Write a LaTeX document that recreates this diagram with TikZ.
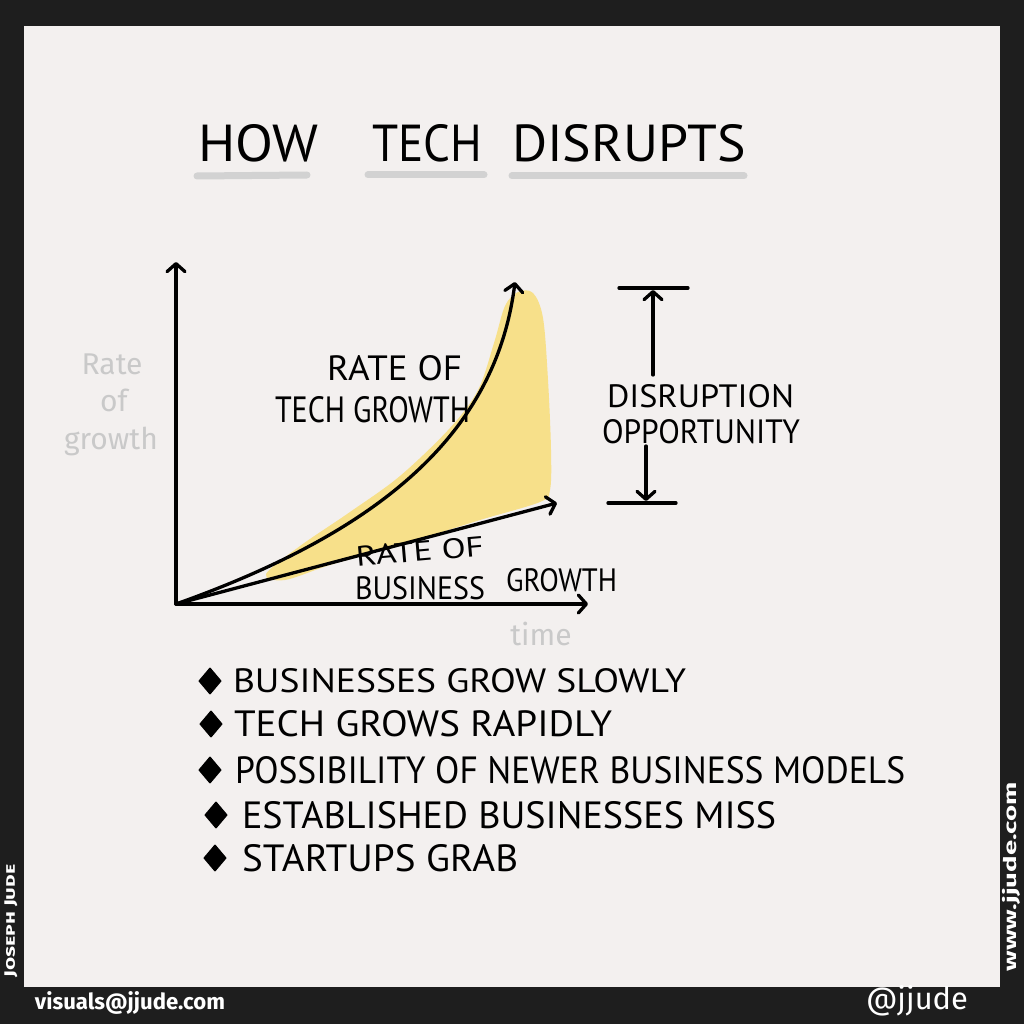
\documentclass[tikz,border=0pt]{standalone}
\usepackage{fontspec}
\usepackage{graphicx}
\setmainfont{PT Sans}
\newfontfamily\hand{PT Sans}
\newfontfamily\soft{Fira Sans}
\usetikzlibrary{arrows.meta,shapes.geometric}
\definecolor{frame}{HTML}{1E1E1E}
\definecolor{paper}{HTML}{F3F0EF}
\definecolor{yel}{HTML}{F7E08A}
\definecolor{lgray}{HTML}{C9C9C9}
\definecolor{ulgray}{HTML}{D2D2D2}
\newcommand\fitbox[3]{\resizebox{#1}{#2}{#3}}
\newcommand\fitall[3]{\resizebox*{#1}{#2}{#3}}
\tikzset{
  ink/.style={draw=black, line width=3.3pt, line cap=round, line join=round},
  arr/.style={-{Straight Barb[length=8pt,width=18pt,round]}},
  txt/.style={inner sep=0pt, outer sep=0pt, anchor=south west},
  lbl/.style={inner sep=0pt, text=lgray, font=\soft\fontsize{30}{30}\selectfont},
  bul/.style={diamond, fill=black, draw=black, line width=1.5pt, line join=round, minimum width=22pt, minimum height=26pt, inner sep=0pt},
  uline/.style={draw=ulgray, line width=7pt, line cap=round},
  foot/.style={inner sep=0pt, text=white},
}
\begin{document}
\begin{tikzpicture}[x=1pt,y=-1pt]
\fill[frame] (0,0) rectangle (1024,1024);
\fill[paper] (24,26) rectangle (1000,987);
\useasboundingbox (0,0) rectangle (1024,1024);

% title
\draw[uline] (197,176) -- (307,175);
\draw[uline] (368,175) -- (484,175);
\draw[uline] (512,176) -- (744,176);
\node[txt] (tHow) at (198,162) {\fitbox{120pt}{37pt}{\hand HOW}};
\node[txt] (tTech) at (372,162) {\fitbox{110pt}{37pt}{\hand TECH}};
\node[txt] (tDis) at (512,162) {\fitbox{234pt}{37pt}{\hand DISRUPTS}};

% yellow area
\fill[yel] plot[smooth cycle, tension=0.55] coordinates {
 (266,574) (300,546) (350,512) (400,476) (450,428) (478,390) (494,343)
 (505,306) (518,292) (533,293) (543,318) (548,380) (551,450) (550,490)
 (540,502) (480,520) (400,545) (330,565) (285,580)};

% axes and curves
\coordinate (O) at (176,604);
\coordinate (Ytop) at (176,262);
\coordinate (Xend) at (588,604);
\coordinate (Tend) at (515,282);
\coordinate (Bend) at (557,503);
\draw[ink, arr] (O) -- (Ytop);
\draw[ink, arr] (O) -- (Xend);
\draw[ink, arr] (O) .. controls (370,535) and (495,440) .. (Tend);
\draw[ink, arr] (O) -- (Bend);

% curve labels
\node[txt] (rt1) at (327,381) {\fitbox{135pt}{25pt}{\hand RATE OF}};
\node[txt] (rt2) at (275,423) {\fitbox{195pt}{26pt}{\hand TECH GROWTH}};
\node[txt, rotate=5] (rb1) at (357,567) {\fitbox{128pt}{20pt}{\hand RATE OF}};
\node[txt] (rb2) at (355,600) {\fitbox{130pt}{23pt}{\hand BUSINESS}};
\node[txt] (rb3) at (506,592) {\fitbox{111pt}{23pt}{\hand GROWTH}};

% axis labels (grey)
\node[lbl] (gRate) at (112,364) {Rate};
\node[lbl] (gOf) at (114,400) {of};
\node[lbl] (gGrowth) at (111,441) {growth};
\node[lbl] (gTime) at (541,634) {time};

% disruption opportunity
\coordinate (topL) at (619,288);
\coordinate (topR) at (688,288);
\coordinate (botL) at (608,503);
\coordinate (botR) at (676,503);
\node[txt] (d1) at (607,408) {\fitbox{187pt}{23pt}{\hand DISRUPTION}};
\node[txt] (d2) at (602,444) {\fitbox{198pt}{24pt}{\hand OPPORTUNITY}};
\coordinate (upS) at (653,375);
\coordinate (upE) at (653,290);
\coordinate (dnS) at (646,446);
\coordinate (dnE) at (646,501);
\draw[ink] (topL) -- (topR);
\draw[ink] (botL) -- (botR);
\draw[ink, arr] (upS) -- (upE);
\draw[ink, arr] (dnS) -- (dnE);

% bullets
\node[bul] (k1) at (210,681) {};
\node[bul] (k2) at (211,724) {};
\node[bul] (k3) at (210,770) {};
\node[bul] (k4) at (216,815) {};
\node[bul] (k5) at (215,858) {};
\node[txt] (b1) at (233,693) {\fitbox{453pt}{24pt}{\hand BUSINESSES GROW SLOWLY}};
\node[txt] (b2) at (234,737) {\fitbox{378pt}{26pt}{\hand TECH GROWS RAPIDLY}};
\node[txt] (b3) at (235,784) {\fitbox{670pt}{27pt}{\hand POSSIBILITY OF NEWER BUSINESS MODELS}};
\node[txt] (b4) at (242,829) {\fitbox{534pt}{27pt}{\hand ESTABLISHED BUSINESSES MISS}};
\node[txt] (b5) at (242,872) {\fitbox{276pt}{27pt}{\hand STARTUPS GRAB}};

% footer / frame texts
\node[foot] (mail) at (130,1003) {\fitbox{190pt}{!}{\soft\bfseries visuals@jjude.com}};
\node[foot] (handle) at (917,1001) {\fitbox{102pt}{!}{\soft @jjude}};
\node[foot, rotate=90] (name) at (11,921) {\fitall{113pt}{13pt}{\soft\bfseries\scshape Joseph Jude}};
\node[foot, rotate=90] (web) at (1011,877) {\fitall{189pt}{18pt}{\soft\bfseries www.jjude.com}};
\end{tikzpicture}
\end{document}
